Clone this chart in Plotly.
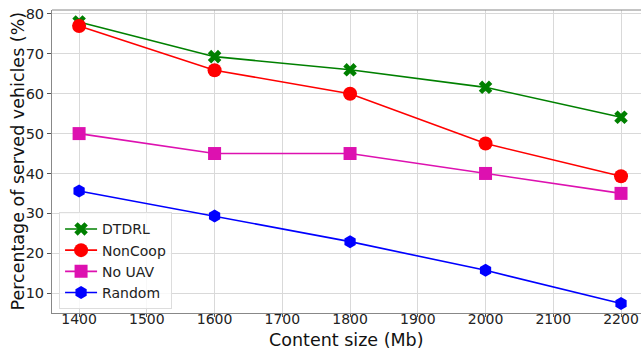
import plotly.graph_objects as go

content_size = [1400, 1600, 1800, 2000, 2200]
dtdrl = [78.0, 69.3, 66.0, 61.6, 54.1]
noncoop = [77.0, 65.9, 60.0, 47.5, 39.3]
no_uav = [50.0, 45.0, 45.0, 40.0, 35.0]
random_policy = [35.6, 29.3, 22.9, 15.7, 7.4]

x_ticks = [1400, 1500, 1600, 1700, 1800, 1900, 2000, 2100, 2200]
y_ticks = [10, 20, 30, 40, 50, 60, 70, 80]

series = [
    ("DTDRL", dtdrl, "green", "x", 12),
    ("NonCoop", noncoop, "red", "circle", 14),
    ("No UAV", no_uav, "#DD11B0", "square", 13),
    ("Random", random_policy, "blue", "hexagon", 13),
]

fig = go.Figure()
for name, vals, color, sym, size in series:
    fig.add_trace(go.Scatter(
        x=content_size, y=vals, name=name, mode="lines+markers",
        line=dict(color=color, width=1.6),
        marker=dict(symbol=sym, size=size, color=color, line=dict(width=0)),
    ))

font = "DejaVu Sans, sans-serif"
fig.update_layout(
    width=641, height=351,
    margin=dict(l=52, r=0, t=10, b=38, autoexpand=False),
    paper_bgcolor="white", plot_bgcolor="white",
    font=dict(family=font, color="#222", size=14),
    showlegend=True,
    legend=dict(
        x=0.012, y=0.012, xanchor="left", yanchor="bottom",
        bgcolor="rgba(255,255,255,0.8)", bordercolor="#ddd", borderwidth=1,
        font=dict(family=font, size=14, color="#222"),
        itemwidth=32, tracegroupgap=0,
    ),
)
fig.update_xaxes(
    range=[1360, 2229.5], tickvals=x_ticks, ticks="outside", ticklen=3,
    tickcolor="#555", showgrid=True, gridcolor="#d9d9d9", gridwidth=1,
    showline=True, linecolor="#888", linewidth=1, mirror=False, zeroline=False,
    tickfont=dict(family=font, size=14, color="#222"),
    ticklabelstandoff=-10,
)
fig.update_yaxes(
    range=[5, 81], tickvals=y_ticks, ticks="outside", ticklen=4,
    tickcolor="#555", showgrid=True, gridcolor="#d9d9d9", gridwidth=1,
    showline=True, linecolor="#888", linewidth=1, zeroline=False,
    tickfont=dict(family=font, size=14.5, color="#222"),
)
# axis titles
fig.add_annotation(text="Content size (Mb)", xref="paper", yref="paper",
                   x=0.5, y=0, yshift=-39, xanchor="center", yanchor="bottom",
                   showarrow=False, font=dict(family=font, size=17.5, color="#111"))
fig.add_annotation(text="Percentage of served vehicles (%)", xref="paper", yref="paper",
                   x=0, xshift=-47, y=0.5, xanchor="left", yanchor="middle", textangle=-90,
                   showarrow=False, font=dict(family=font, size=17.5, color="#111"))
# top frame line
fig.add_shape(type="line", xref="paper", yref="paper", x0=0, x1=1, y0=1, y1=1,
              line=dict(color="#888", width=1))

fig.write_html("out.html")
